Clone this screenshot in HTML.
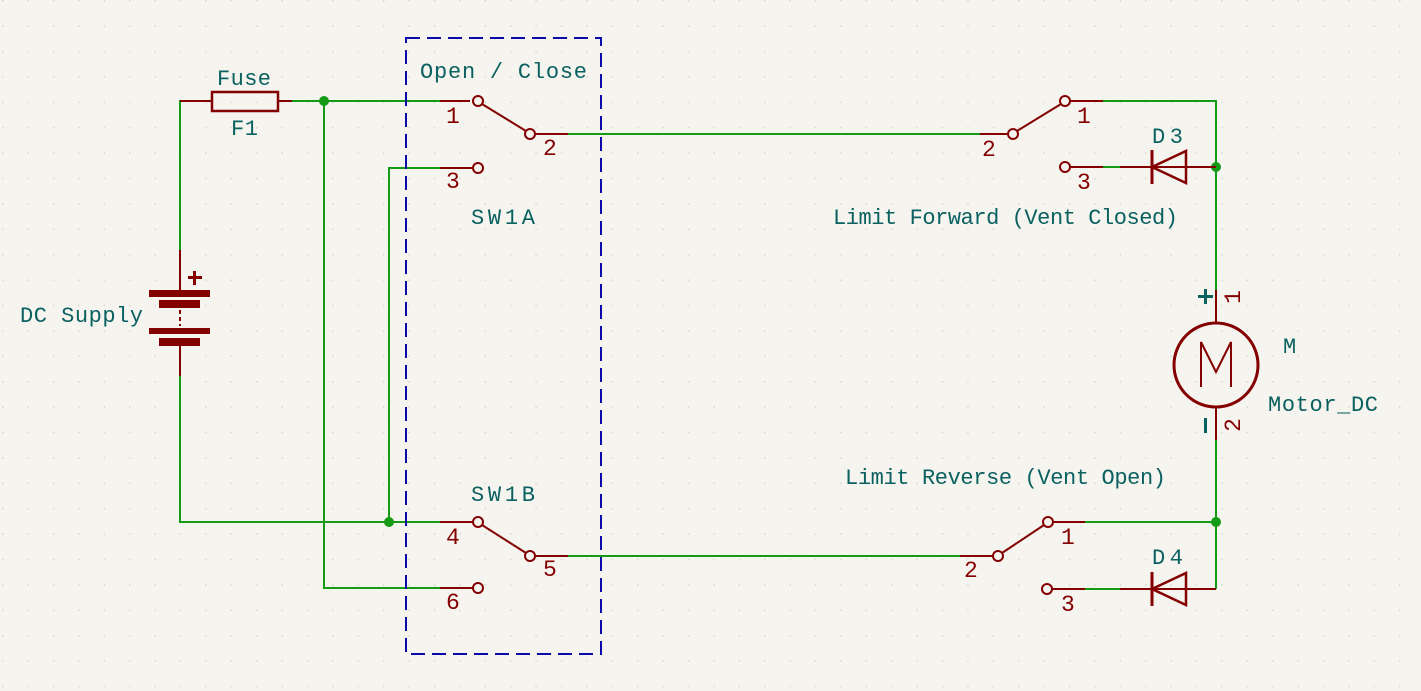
<!DOCTYPE html>
<html><head><meta charset="utf-8"><style>
html,body{margin:0;padding:0;background:#f5f4ef;}
svg{display:block}
text{font-family:"Liberation Mono","DejaVu Sans Mono",monospace;}
</style></head><body>
<svg width="1421" height="691" viewBox="0 0 1421 691" xmlns="http://www.w3.org/2000/svg">
<defs><pattern id="g" width="25.4" height="25.4" patternUnits="userSpaceOnUse" x="2" y="0"><rect x="0" y="0" width="1.5" height="1.5" fill="#d8d6cf"/></pattern></defs>
<rect width="1421" height="691" fill="#f5f4ef"/>
<rect width="1421" height="691" fill="url(#g)"/>
<g stroke="#159a15" stroke-width="2" fill="none">
<polyline points="197,101 180,101 180,250"/>
<line x1="292" y1="101" x2="440" y2="101"/>
<polyline points="180,376 180,522 440,522"/>
<polyline points="324,101 324,588 440,588"/>
<polyline points="389,522 389,168 440,168"/>
<line x1="568" y1="134" x2="980" y2="134"/>
<polyline points="1103,101 1216,101 1216,290"/>
<line x1="1103" y1="167" x2="1120" y2="167"/>
<polyline points="1216,440 1216,589"/>
<line x1="568" y1="556" x2="960" y2="556"/>
<line x1="1085" y1="522" x2="1216" y2="522"/>
<line x1="1085" y1="589" x2="1120" y2="589"/>
</g>
<g fill="#159a15"><circle cx="324" cy="101" r="5"/><circle cx="389" cy="522" r="5"/><circle cx="1216" cy="167" r="5"/><circle cx="1216" cy="522" r="5"/></g>
<rect x="406" y="38" width="195" height="616" fill="none" stroke="#0a0aa8" stroke-width="2" stroke-dasharray="14,7"/>
<g stroke="#840000" stroke-width="2" fill="none">
<line x1="180" y1="101" x2="212" y2="101"/><line x1="278" y1="101" x2="292" y2="101"/>
<rect x="212" y="92" width="66" height="19" stroke-width="2.5"/>
<line x1="180" y1="250" x2="180" y2="292"/><line x1="180" y1="344" x2="180" y2="376"/>
<line x1="180" y1="310" x2="180" y2="326" stroke-dasharray="4,3"/>
<line x1="440" y1="101" x2="470" y2="101"/><circle cx="478" cy="101" r="5"/>
<line x1="482" y1="104" x2="526" y2="131"/><circle cx="530" cy="134" r="5"/><line x1="535" y1="134" x2="568" y2="134"/>
<line x1="440" y1="168" x2="473" y2="168"/><circle cx="478" cy="168" r="5"/>
<line x1="440" y1="522" x2="473" y2="522"/><circle cx="478" cy="522" r="5"/>
<line x1="482" y1="525" x2="526" y2="553"/><circle cx="530" cy="556" r="5"/><line x1="535" y1="556" x2="568" y2="556"/>
<line x1="440" y1="588" x2="473" y2="588"/><circle cx="478" cy="588" r="5"/>
<line x1="980" y1="134" x2="1008" y2="134"/><circle cx="1013" cy="134" r="5"/>
<line x1="1017" y1="131" x2="1061" y2="104"/><circle cx="1065" cy="101" r="5"/><line x1="1070" y1="101" x2="1103" y2="101"/>
<circle cx="1065" cy="167" r="5"/><line x1="1070" y1="167" x2="1103" y2="167"/>
<line x1="1120" y1="167" x2="1216" y2="167"/>
<line x1="1152" y1="150" x2="1152" y2="184" stroke-width="3"/><polygon points="1152,167 1186,151 1186,183" stroke-width="2.5"/>
<line x1="1216" y1="290" x2="1216" y2="323"/><line x1="1216" y1="407" x2="1216" y2="440"/>
<circle cx="1216" cy="365" r="42" stroke-width="3"/>
<polyline points="1201,387 1201,342 1216,372 1231,342 1231,387"/>
<line x1="960" y1="556" x2="993" y2="556"/><circle cx="998" cy="556" r="5"/>
<line x1="1002" y1="553" x2="1044" y2="525"/><circle cx="1048" cy="522" r="5"/><line x1="1053" y1="522" x2="1085" y2="522"/>
<circle cx="1047" cy="589" r="5"/><line x1="1052" y1="589" x2="1085" y2="589"/>
<line x1="1120" y1="589" x2="1216" y2="589"/>
<line x1="1152" y1="572" x2="1152" y2="606" stroke-width="3"/><polygon points="1152,589 1186,573 1186,605" stroke-width="2.5"/>
</g>
<g fill="#840000">
<rect x="149" y="290" width="61" height="7"/><rect x="159" y="300" width="41" height="8"/>
<rect x="149" y="328" width="61" height="6"/><rect x="159" y="338" width="41" height="8"/>
<rect x="193" y="271" width="3" height="14"/><rect x="188" y="276" width="14" height="3"/>
</g>
<g fill="#840000" font-size="23">
<text x="446" y="123">1</text><text x="543" y="155">2</text><text x="446" y="188">3</text>
<text x="446" y="544">4</text><text x="543" y="576">5</text><text x="446" y="609">6</text>
<text x="982" y="156">2</text><text x="1077" y="123">1</text><text x="1077" y="189">3</text>
<text x="964" y="577">2</text><text x="1061" y="544">1</text><text x="1061" y="611">3</text>
<text transform="translate(1240,297) rotate(-90)" text-anchor="middle">1</text>
<text transform="translate(1240,425) rotate(-90)" text-anchor="middle">2</text>
</g>
<g fill="#0b6060" font-size="22">
<text x="217" y="85" textLength="54">Fuse</text><text x="231" y="135" textLength="27">F1</text>
<text x="420" y="78" textLength="167">Open / Close</text>
<text x="471" y="224" textLength="64">SW1A</text><text x="471" y="501" textLength="64">SW1B</text>
<text x="20" y="322" textLength="123">DC Supply</text>
<text x="1152" y="143" textLength="31">D3</text><text x="1152" y="564" textLength="31">D4</text>
<text x="833" y="224" textLength="345">Limit Forward (Vent Closed)</text>
<text x="845" y="484" textLength="321">Limit Reverse (Vent Open)</text>
<text x="1283" y="353">M</text><text x="1268" y="411" textLength="110">Motor_DC</text>
<rect x="1198" y="295" width="15" height="3"/><rect x="1204" y="289" width="3" height="15"/>
<rect x="1204" y="418" width="3" height="15"/>
</g>
</svg>
</body></html>
